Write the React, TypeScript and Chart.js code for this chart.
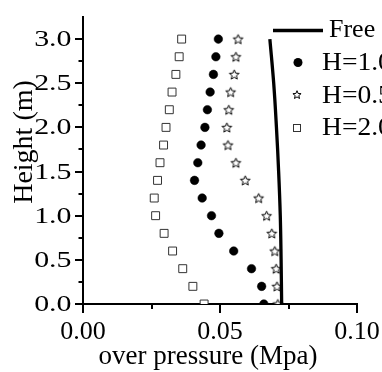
import React, { useEffect, useRef } from 'react';
import { Chart, registerables } from 'chart.js';

Chart.register(...registerables);

// ---- data ----
const heights = [0, 0.2, 0.4, 0.6, 0.8, 1.0, 1.2, 1.4, 1.6, 1.8, 2.0, 2.2, 2.4, 2.6, 2.8, 3.0];
const h10Values = [0.0660, 0.0652, 0.0615, 0.0550, 0.0496, 0.0469, 0.0435, 0.0407, 0.0419, 0.0431, 0.0445, 0.0454, 0.0464, 0.0476, 0.0485, 0.0494];
const h05Values = [0.0711, 0.0708, 0.0705, 0.0700, 0.0689, 0.0670, 0.0641, 0.0592, 0.0558, 0.0529, 0.0525, 0.0532, 0.0539, 0.0552, 0.0558, 0.0566];
const h20Values = [0.0442, 0.0401, 0.0364, 0.0327, 0.0296, 0.0265, 0.0260, 0.0272, 0.0281, 0.0294, 0.0303, 0.0315, 0.0325, 0.0339, 0.0351, 0.0360];
const freeHeights = [0, 0.5, 1.0, 1.5, 2.0, 2.5, 3.0];
const freeValues = [0.0725, 0.0723, 0.0720, 0.0714, 0.0706, 0.0696, 0.0682];

const seriesLabels = ['Free', 'H=1.0', 'H=0.5', 'H=2.0'];
const xTickValues = [0, 0.05, 0.1];
const xMinorTickValues = [0.025, 0.075];
const yTickValues = [0, 0.5, 1.0, 1.5, 2.0, 2.5, 3.0];
const yMinorTickValues = [0.25, 0.75, 1.25, 1.75, 2.25, 2.75];
const xTitle = 'over pressure (Mpa)';
const yTitle = 'Height (m)';

const FAMILY = '"Liberation Serif", "Times New Roman", serif';

function starPath(ctx: CanvasRenderingContext2D, cx: number, cy: number, ro: number, ri: number) {
  ctx.beginPath();
  for (let i = 0; i < 10; i++) {
    const r = i % 2 === 0 ? ro : ri;
    const a = -Math.PI / 2 + (i * Math.PI) / 5;
    const px = cx + r * Math.cos(a);
    const py = cy + r * Math.sin(a);
    if (i === 0) ctx.moveTo(px, py);
    else ctx.lineTo(px, py);
  }
  ctx.closePath();
}

function makeStar(ro: number) {
  const size = Math.ceil(ro * 2 + 4);
  const c = document.createElement('canvas');
  c.width = size;
  c.height = size;
  const ctx = c.getContext('2d')!;
  starPath(ctx, size / 2, size / 2 + 0.5, ro, ro * 0.45);
  ctx.fillStyle = '#fff';
  ctx.fill();
  ctx.lineWidth = 1;
  ctx.strokeStyle = '#000';
  ctx.lineJoin = 'miter';
  ctx.stroke();
  return c;
}

const decorPlugin = {
  id: 'decor',
  afterDraw(chart: any) {
    const ctx: CanvasRenderingContext2D = chart.ctx;
    const xs = chart.scales.x;
    const ys = chart.scales.y;
    const area = chart.chartArea;
    ctx.save();
    ctx.strokeStyle = '#000';
    ctx.lineWidth = 2;
    // x ticks (outward, down)
    const drawX = (v: number, len: number) => {
      const p = Math.round(xs.getPixelForValue(v));
      ctx.beginPath();
      ctx.moveTo(p, area.bottom);
      ctx.lineTo(p, area.bottom + len);
      ctx.stroke();
    };
    xTickValues.forEach((v) => drawX(v, 9));
    xMinorTickValues.forEach((v) => drawX(v, 5));
    const drawY = (v: number, len: number) => {
      const p = Math.round(ys.getPixelForValue(v));
      ctx.beginPath();
      ctx.moveTo(area.left, p);
      ctx.lineTo(area.left - len, p);
      ctx.stroke();
    };
    yTickValues.forEach((v) => drawY(v, 8));
    yMinorTickValues.forEach((v) => drawY(v, 4.5));

    // y tick labels (wide serif digits)
    ctx.fillStyle = '#000';
    ctx.font = `23px ${FAMILY}`;
    ctx.textAlign = 'right';
    ctx.textBaseline = 'middle';
    yTickValues.forEach((v) => {
      const p = ys.getPixelForValue(v);
      ctx.save();
      ctx.translate(71.5, p + 1);
      ctx.scale(1.3, 1);
      ctx.fillText(v.toFixed(1), 0, 0);
      ctx.restore();
    });

    // titles
    ctx.font = `27px ${FAMILY}`;
    ctx.textAlign = 'center';
    ctx.textBaseline = 'alphabetic';
    ctx.fillText(xTitle, 208, 364);
    ctx.save();
    ctx.translate(32, 142);
    ctx.rotate(-Math.PI / 2);
    ctx.font = `28px ${FAMILY}`;
    ctx.fillText(yTitle, 0, 0);
    ctx.restore();

    // legend
    ctx.font = `26px ${FAMILY}`;
    ctx.textAlign = 'left';
    ctx.textBaseline = 'middle';
    ctx.lineWidth = 3.3;
    ctx.beginPath();
    ctx.moveTo(273, 30.5);
    ctx.lineTo(323, 30.5);
    ctx.stroke();
    ctx.fillText(seriesLabels[0], 329, 30);

    const drawLegendText = (t: string, y: number) => {
      ctx.save();
      ctx.translate(322, y);
      ctx.scale(1.06, 1);
      ctx.fillText(t, 0, 0);
      ctx.restore();
    };

    ctx.beginPath();
    ctx.arc(298, 62.5, 4.5, 0, Math.PI * 2);
    ctx.fill();
    drawLegendText(seriesLabels[1], 63);

    ctx.lineWidth = 1;
    starPath(ctx, 297, 95, 4.3, 1.9);
    ctx.fillStyle = '#fff';
    ctx.fill();
    ctx.stroke();
    ctx.fillStyle = '#000';
    drawLegendText(seriesLabels[2], 96);

    ctx.strokeStyle = '#333';
    ctx.strokeRect(293.5, 124.5, 7, 7);
    drawLegendText(seriesLabels[3], 128);
    ctx.restore();
  },
};

export default function App() {
  const ref = useRef<HTMLCanvasElement>(null);
  useEffect(() => {
    const canvas = ref.current!;
    const star = makeStar(5.1);
    const chart = new Chart(canvas, {
      type: 'scatter',
      data: {
        datasets: [
          {
            label: seriesLabels[0],
            data: freeHeights.map((h, i) => ({ x: freeValues[i], y: h })),
            showLine: true,
            borderColor: '#000',
            backgroundColor: '#000',
            borderWidth: 3.3,
            pointRadius: 0,
            tension: 0.4,
            clip: 0,
          } as any,
          {
            label: seriesLabels[1],
            data: heights.map((h, i) => ({ x: h10Values[i], y: h })),
            pointStyle: 'circle',
            pointRadius: 4.3,
            backgroundColor: '#000',
            borderColor: '#000',
            borderWidth: 0.5,
            clip: 0,
          } as any,
          {
            label: seriesLabels[2],
            data: heights.map((h, i) => ({ x: h05Values[i], y: h })),
            pointStyle: star,
            pointRadius: 5,
            clip: 0,
          } as any,
          {
            label: seriesLabels[3],
            data: heights.map((h, i) => ({ x: h20Values[i], y: h })),
            pointStyle: 'rect',
            pointRadius: 5.6,
            backgroundColor: '#fff',
            borderColor: '#333',
            borderWidth: 1,
            clip: 0,
          } as any,
        ],
      },
      options: {
        responsive: false,
        animation: false,
        devicePixelRatio: 1,
        events: [],
        layout: { padding: { left: 0, top: 17, right: 25, bottom: 0 } },
        plugins: { legend: { display: false }, tooltip: { enabled: false } },
        scales: {
          x: {
            type: 'linear',
            position: 'bottom',
            min: 0,
            max: 0.1,
            z: 1,
            grid: { display: false, drawTicks: false },
            border: { display: true, color: '#000', width: 2 },
            ticks: {
              font: { family: FAMILY, size: 26 },
              color: '#000',
              padding: 13,
              maxRotation: 0,
              autoSkip: false,
              callback: (v: any) => Number(v).toFixed(2),
            },
            afterBuildTicks: (s: any) => {
              s.ticks = xTickValues.map((v) => ({ value: v }));
            },
            afterFit: (s: any) => {
              s.height = 68;
              s.paddingLeft = 0;
              s.paddingRight = 0;
            },
          },
          y: {
            type: 'linear',
            position: 'left',
            min: 0,
            max: 3.25,
            z: 1,
            grid: { display: false, drawTicks: false },
            border: { display: true, color: '#000', width: 2 },
            ticks: { display: false },
            afterBuildTicks: (s: any) => {
              s.ticks = yTickValues.map((v) => ({ value: v }));
            },
            afterFit: (s: any) => {
              s.width = 83;
              s.paddingTop = 0;
              s.paddingBottom = 0;
            },
          },
        },
      } as any,
      plugins: [decorPlugin],
    });
    return () => chart.destroy();
  }, []);
  return (
    <div style={{ position: 'fixed', left: 0, top: 0, width: 382, height: 372, background: '#fff', overflow: 'hidden' }}>
      <canvas ref={ref} width={382} height={372} style={{ display: 'block', width: 382, height: 372 }} />
    </div>
  );
}
